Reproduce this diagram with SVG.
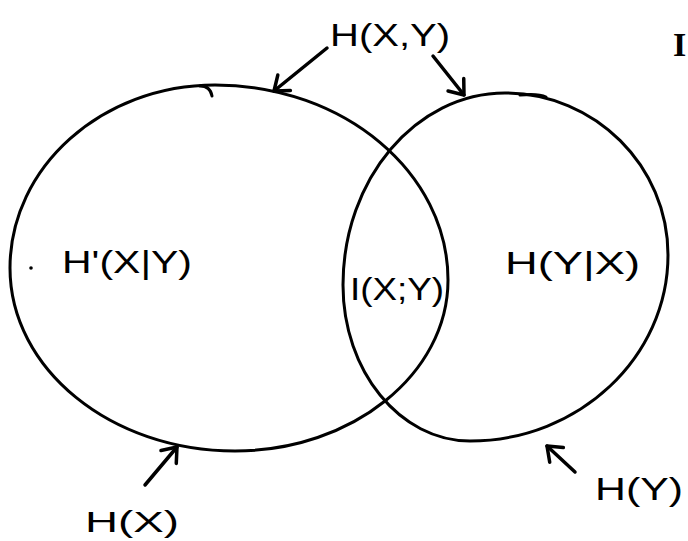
<svg xmlns="http://www.w3.org/2000/svg" width="688" height="541" viewBox="0 0 688 541">
<style>
.c{fill:none;stroke:#000;stroke-width:3;stroke-linecap:round;stroke-linejoin:round}
.a{fill:none;stroke:#000;stroke-width:3.5;stroke-linecap:round}
.t{font-family:"Liberation Sans",Arial,sans-serif;font-size:32px;fill:#000}
</style>
<defs>
<marker id="ah" viewBox="0 0 12 12" refX="11" refY="6" markerWidth="12" markerHeight="12" markerUnits="userSpaceOnUse" orient="auto" overflow="visible">
<path d="M-2,-4 L11,6 L-2,16" fill="none" stroke="#000" stroke-width="3.5" stroke-linecap="round" stroke-linejoin="round"/>
</marker>
</defs>
<rect width="688" height="541" fill="#fff"/>
<g id="nodeHX">
<path class="c" d="M215,85 C344,85 448,173 448,280 C448,374 352,451 235,451 C111,451 10,369 10,268 C10,167 102,85 215,85 Z"/>
<path class="c" d="M200,86 C207,86 211,90 212,96"/>
<circle cx="31" cy="268" r="1.8" fill="#000"/>
<text class="t" x="62" y="273" textLength="130" lengthAdjust="spacingAndGlyphs">H'(X|Y)</text>
</g>
<g id="nodeHY">
<path class="c" d="M505,93 C595,93 668,166 668,255 C668,357 579,441 470,441 C400,441 343,371 343,285 C343,179 416,93 505,93 Z"/>
<path class="c" d="M520,95 C530,94 540,94 546,97"/>
<text class="t" x="505" y="274" textLength="135" lengthAdjust="spacingAndGlyphs">H(Y|X)</text>
</g>
<g id="nodeI">
<text class="t" x="350" y="300" textLength="94" lengthAdjust="spacingAndGlyphs">I(X;Y)</text>
</g>
<g id="labels">
<text class="t" x="330" y="46" textLength="120" lengthAdjust="spacingAndGlyphs">H(X,Y)</text>
<text class="t" x="85" y="532" style="font-size:30px" textLength="94" lengthAdjust="spacingAndGlyphs">H(X)</text>
<text class="t" x="595" y="500" textLength="88" lengthAdjust="spacingAndGlyphs">H(Y)</text>
<text x="673" y="56" style="font-family:'Liberation Serif',serif;font-size:34px;font-weight:bold;fill:#000">I</text>
</g>
<g id="connectors">
<line class="a" x1="327" y1="48" x2="274" y2="91" marker-end="url(#ah)"/>
<line class="a" x1="433" y1="56" x2="464" y2="95" marker-end="url(#ah)"/>
<line class="a" x1="145" y1="485" x2="177" y2="447" marker-end="url(#ah)"/>
<line class="a" x1="575" y1="472" x2="547" y2="446" marker-end="url(#ah)"/>
</g>
</svg>
